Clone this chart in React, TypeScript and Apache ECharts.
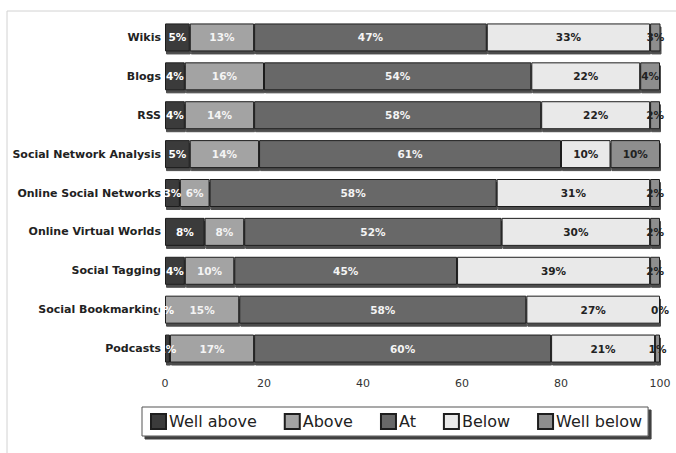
import React, { useEffect, useRef } from "react";
import * as echarts from "echarts";

// Technologies, top to bottom
const categories = [
  "Wikis",
  "Blogs",
  "RSS",
  "Social Network Analysis",
  "Online Social Networks",
  "Online Virtual Worlds",
  "Social Tagging",
  "Social Bookmarking",
  "Podcasts",
];

// Percentage of respondents in each rating band, per technology
const wellAbove = [5, 4, 4, 5, 3, 8, 4, 0, 1];
const above = [13, 16, 14, 14, 6, 8, 10, 15, 17];
const at = [47, 54, 58, 61, 58, 52, 45, 58, 60];
const below = [33, 22, 22, 10, 31, 30, 39, 27, 21];
const wellBelow = [3, 4, 2, 10, 2, 2, 2, 0, 1];

const xTicks = [0, 20, 40, 60, 80, 100];

const seriesDefs = [
  { name: "Well above", data: wellAbove, color: "#3b3b3b", text: "#ffffff" },
  { name: "Above", data: above, color: "#a3a3a3", text: "#f4f4f4" },
  { name: "At", data: at, color: "#686868", text: "#f4f4f4" },
  { name: "Below", data: below, color: "#e9e9e9", text: "#222222" },
  { name: "Well below", data: wellBelow, color: "#8e8e8e", text: "#222222" },
];

export default function App() {
  const ref = useRef<HTMLDivElement>(null);

  useEffect(() => {
    if (!ref.current) return;
    const chart = echarts.init(ref.current, null, { renderer: "svg" });
    chart.setOption({
      animation: false,
      backgroundColor: "#ffffff",
      textStyle: { fontFamily: "DejaVu Sans" },
      graphic: [
        {
          type: "rect",
          shape: { x: 7, y: 11, width: 720, height: 500 },
          style: { fill: "none", stroke: "#d2d2d2", lineWidth: 1 },
          silent: true,
        },
      ],
      grid: { left: 165, right: 16, top: 18, bottom: 85, containLabel: false },
      xAxis: {
        type: "value",
        min: xTicks[0],
        max: xTicks[xTicks.length - 1],
        interval: 20,
        axisLine: { show: false },
        axisTick: { show: false },
        splitLine: { show: false },
        axisLabel: { color: "#333", fontSize: 11, margin: 10 },
      },
      yAxis: {
        type: "category",
        data: categories,
        inverse: true,
        axisLine: { show: false },
        axisTick: { show: false },
        axisLabel: { color: "#222", fontSize: 11, fontWeight: "bold", margin: 4 },
      },
      legend: {
        left: 142,
        top: 407,
        itemWidth: 15,
        itemHeight: 15,
        itemGap: 27,
        padding: [6, 6, 6, 8],
        borderColor: "#555",
        borderWidth: 1,
        backgroundColor: "#fff",
        shadowColor: "rgba(0,0,0,0.75)",
        shadowOffsetX: 3,
        shadowOffsetY: 3,
        shadowBlur: 0,
        icon: "rect",
        textStyle: { color: "#222", fontSize: 16, padding: [0, 0, 0, -2] },
        data: seriesDefs.map((s) => s.name),
      },
      series: seriesDefs.map((s) => ({
        name: s.name,
        type: "bar",
        stack: "total",
        barWidth: 28,
        data: s.data,
        itemStyle: {
          color: s.color,
          borderColor: "#1e1e1e",
          borderWidth: 1,
          shadowColor: "rgba(0,0,0,0.7)",
          shadowOffsetX: 1,
          shadowOffsetY: 3,
          shadowBlur: 0,
        },
        label: {
          show: true,
          position: "inside",
          formatter: (p: any) => `${p.value}%`,
          color: s.text,
          fontSize: 10.5,
          fontWeight: "bold",
        },
      })),
    });
    return () => chart.dispose();
  }, []);

  return (
    <div
      ref={ref}
      style={{ position: "absolute", left: 0, top: 0, width: 676, height: 453 }}
    />
  );
}
